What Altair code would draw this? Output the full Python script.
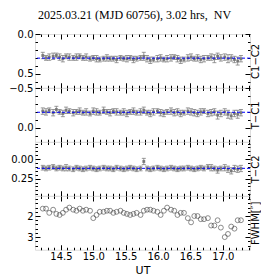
import altair as alt
import pandas as pd

# ---- data ----
t = [14.22, 14.27, 14.32, 14.38, 14.43, 14.48, 14.53, 14.58, 14.63, 14.69,
     14.74, 14.79, 14.84, 14.89, 14.95, 15.00, 15.05, 15.10, 15.16, 15.21,
     15.26, 15.31, 15.36, 15.42, 15.47, 15.52, 15.57, 15.62, 15.67, 15.73,
     15.78, 15.83, 15.88, 15.93, 15.99, 16.04, 16.09, 16.14, 16.20, 16.25,
     16.30, 16.35, 16.40, 16.46, 16.51, 16.56, 16.61, 16.66, 16.71, 16.77,
     16.82, 16.87, 16.92, 16.97, 17.03, 17.08, 17.13, 17.18, 17.23, 17.28]

c1c2 = [0.27, 0.30, 0.29, 0.28, 0.27, 0.29, 0.31, 0.28, 0.29, 0.30,
        0.29, 0.28, 0.30, 0.29, 0.31, 0.30, 0.31, 0.32, 0.31, 0.30,
        0.31, 0.31, 0.32, 0.30, 0.31, 0.31, 0.30, 0.32, 0.31, 0.30,
        0.28, 0.31, 0.33, 0.32, 0.31, 0.30, 0.32, 0.31, 0.30, 0.29,
        0.31, 0.33, 0.32, 0.30, 0.29, 0.31, 0.30, 0.32, 0.31, 0.30,
        0.29, 0.31, 0.28, 0.30, 0.29, 0.31, 0.30, 0.32, 0.34, 0.31]
c1c2_err = [0.04, 0.03, 0.04, 0.04, 0.03, 0.04, 0.04, 0.03, 0.04, 0.03,
            0.04, 0.03, 0.03, 0.04, 0.03, 0.03, 0.04, 0.03, 0.03, 0.04,
            0.03, 0.03, 0.04, 0.03, 0.03, 0.04, 0.03, 0.04, 0.03, 0.03,
            0.05, 0.04, 0.04, 0.03, 0.04, 0.04, 0.03, 0.04, 0.04, 0.03,
            0.04, 0.04, 0.03, 0.04, 0.04, 0.03, 0.04, 0.04, 0.04, 0.03,
            0.04, 0.05, 0.04, 0.04, 0.04, 0.05, 0.04, 0.04, 0.05, 0.04]

tc1 = [-0.21, -0.20, -0.22, -0.19, -0.23, -0.20, -0.18, -0.22, -0.21, -0.19,
       -0.20, -0.21, -0.19, -0.20, -0.18, -0.21, -0.20, -0.19, -0.22, -0.20,
       -0.19, -0.21, -0.20, -0.19, -0.20, -0.18, -0.20, -0.21, -0.19, -0.20,
       -0.22, -0.19, -0.18, -0.20, -0.21, -0.19, -0.18, -0.20, -0.21, -0.19,
       -0.20, -0.18, -0.19, -0.21, -0.20, -0.19, -0.18, -0.20, -0.21, -0.18,
       -0.19, -0.20, -0.16, -0.18, -0.20, -0.17, -0.15, -0.18, -0.17, -0.19]
tc1_err = [0.04, 0.04, 0.03, 0.04, 0.04, 0.03, 0.04, 0.04, 0.03, 0.04,
           0.03, 0.04, 0.03, 0.04, 0.03, 0.04, 0.04, 0.03, 0.04, 0.03,
           0.04, 0.03, 0.04, 0.03, 0.04, 0.04, 0.03, 0.04, 0.03, 0.04,
           0.04, 0.03, 0.04, 0.04, 0.03, 0.04, 0.04, 0.03, 0.04, 0.04,
           0.04, 0.04, 0.03, 0.04, 0.04, 0.04, 0.04, 0.04, 0.03, 0.04,
           0.04, 0.04, 0.05, 0.04, 0.04, 0.05, 0.04, 0.04, 0.05, 0.04]

tc2 = [0.11, 0.12, 0.11, 0.10, 0.12, 0.11, 0.12, 0.11, 0.12, 0.13,
       0.11, 0.12, 0.13, 0.12, 0.11, 0.12, 0.13, 0.12, 0.11, 0.12,
       0.12, 0.13, 0.11, 0.12, 0.13, 0.12, 0.11, 0.12, 0.13, 0.12,
       0.03, 0.12, 0.13, 0.12, 0.11, 0.12, 0.13, 0.12, 0.11, 0.12,
       0.13, 0.12, 0.12, 0.11, 0.12, 0.13, 0.12, 0.11, 0.12, 0.10,
       0.11, 0.12, 0.14, 0.12, 0.11, 0.13, 0.15, 0.12, 0.13, 0.12]
tc2_err = [0.03, 0.03, 0.03, 0.03, 0.03, 0.03, 0.03, 0.04, 0.03, 0.03,
           0.03, 0.03, 0.03, 0.03, 0.03, 0.03, 0.03, 0.03, 0.03, 0.03,
           0.03, 0.03, 0.03, 0.03, 0.03, 0.03, 0.03, 0.03, 0.03, 0.03,
           0.04, 0.03, 0.03, 0.03, 0.03, 0.03, 0.03, 0.03, 0.03, 0.03,
           0.03, 0.03, 0.03, 0.03, 0.03, 0.03, 0.03, 0.03, 0.03, 0.03,
           0.04, 0.03, 0.04, 0.03, 0.04, 0.04, 0.04, 0.04, 0.04, 0.04]

fwhm = [1.65, 1.65, 1.85, 1.70, 1.90, 1.95, 1.85, 1.70, 1.60, 1.70,
        1.75, 1.65, 1.75, 1.70, 1.75, 2.10, 1.95, 1.80, 1.80, 1.75,
        1.75, 1.85, 1.80, 1.75, 1.85, 1.90, 1.95, 1.90, 1.85, 1.95,
        1.75, 1.70, 1.70, 1.75, 1.80, 1.95, 1.75, 1.60, 1.70, 1.75,
        1.95, 1.85, 1.85, 2.10, 2.30, 2.00, 2.00, 2.15, 2.15, 2.10,
        2.45, 2.45, 2.20, 2.55, 3.00, 2.85, 2.50, 2.60, 2.20, 2.20]

# ---- axis tick values ----
x_domain = [14.1, 17.42]
x_ticks = [14.2, 14.3, 14.4, 14.5, 14.6, 14.7, 14.8, 14.9, 15.0, 15.1, 15.2,
           15.3, 15.4, 15.5, 15.6, 15.7, 15.8, 15.9, 16.0, 16.1, 16.2, 16.3,
           16.4, 16.5, 16.6, 16.7, 16.8, 16.9, 17.0, 17.1, 17.2, 17.3, 17.4]
x_major_step = 0.5

title_text = "2025.03.21 (MJD 60756), 3.02 hrs,\u00a0 NV"

W, H = 215, 53.75
FONT = "DejaVu Sans"
PT_COLOR = "#808080"


def is_major(step):
    return f"abs(datum.value / {step} - round(datum.value / {step})) < 0.001"


def make_axis(orient, vals, step, fmt, labels, title_pad=2, ytitle=False):
    test = is_major(step)
    kw = dict(orient=orient, values=vals,
              tickSize=alt.ExprRef(f"({test}) ? -5 : -2.5"),
              domain=False, grid=False, labels=labels, labelOverlap=False,
              labelExpr=f"({test}) ? format(datum.value, '{fmt}') : ''",
              tickColor="black", tickWidth=1, minExtent=0,
              labelFont=FONT, labelFontSize=10, labelColor="black",
              labelPadding=7, labelFlush=False,
              titleFont=FONT, titleFontWeight="normal", titleColor="black",
              titlePadding=title_pad)
    if ytitle:
        kw["titleAngle"] = 270
        kw["titleBaseline"] = "top"
        kw["titleFontSize"] = 10
    else:
        kw["titleFontSize"] = 11
    return alt.Axis(**kw)


def xs():
    return alt.Scale(domain=x_domain, nice=False, zero=False)


def ys(dom):
    return alt.Scale(domain=dom, reverse=True, nice=False, zero=False)


def err_panel(vals, errs, dom, yvals, ystep, fmt, rtitle):
    df = pd.DataFrame({"t": t, "v": vals, "e": errs})
    df["lo"] = df["v"] - df["e"]
    df["hi"] = df["v"] + df["e"]
    mean_df = pd.DataFrame({"m": [sum(vals) / len(vals)]})
    base = alt.Chart(df)
    bars = base.mark_rule(color=PT_COLOR, strokeWidth=1, opacity=0.8).encode(
        x=alt.X("t:Q", scale=xs(), title=None,
                axis=make_axis("bottom", x_ticks, x_major_step, ".1f", False)),
        y=alt.Y("lo:Q", scale=ys(dom), title=None,
                axis=make_axis("left", yvals, ystep, fmt, True)),
        y2="hi:Q",
    )
    cap_lo = base.mark_tick(orient="horizontal", size=4, thickness=1, color=PT_COLOR, opacity=0.8).encode(
        x=alt.X("t:Q", scale=xs(), title=None,
                axis=make_axis("top", x_ticks, x_major_step, ".1f", False)),
        y=alt.Y("lo:Q", scale=ys(dom), title=rtitle,
                axis=make_axis("right", yvals, ystep, fmt, False, title_pad=0, ytitle=True)),
    )
    cap_hi = base.mark_tick(orient="horizontal", size=4, thickness=1, color=PT_COLOR, opacity=0.8).encode(
        x=alt.X("t:Q", scale=xs(), axis=None),
        y=alt.Y("hi:Q", scale=ys(dom), axis=None),
    )
    pts = base.mark_point(shape="square", filled=True, size=8, color="#707070", opacity=0.9).encode(
        x=alt.X("t:Q", scale=xs(), axis=None),
        y=alt.Y("v:Q", scale=ys(dom), axis=None),
    )
    mean = alt.Chart(mean_df).mark_rule(color="#0000ff", strokeDash=[3, 2], strokeWidth=1).encode(
        y=alt.Y("m:Q", scale=ys(dom), axis=None),
    )
    return alt.layer(bars, cap_lo, cap_hi, pts, mean).resolve_axis(
        x="independent", y="independent").properties(width=W, height=H)


def fwhm_panel():
    df = pd.DataFrame({"t": t, "f": fwhm})
    dom = [1.05, 3.6]
    yvals = [1.2, 1.4, 1.6, 1.8, 2.0, 2.2, 2.4, 2.6, 2.8, 3.0, 3.2, 3.4]
    base = alt.Chart(df)
    circ = base.mark_point(shape="circle", filled=False, size=24, color="#333333", strokeWidth=0.8).encode(
        x=alt.X("t:Q", scale=xs(), title="UT",
                axis=make_axis("bottom", x_ticks, x_major_step, ".1f", True, title_pad=0)),
        y=alt.Y("f:Q", scale=ys(dom), title=None,
                axis=make_axis("left", yvals, 1, "d", True)),
    )
    ghost = base.mark_point(opacity=0).encode(
        x=alt.X("t:Q", scale=xs(), title=None,
                axis=make_axis("top", x_ticks, x_major_step, ".1f", False)),
        y=alt.Y("f:Q", scale=ys(dom), title="FWHM[″]",
                axis=make_axis("right", yvals, 1, "d", False, title_pad=0, ytitle=True)),
    )
    return alt.layer(circ, ghost).resolve_axis(
        x="independent", y="independent").properties(width=W, height=H)


p1 = err_panel(c1c2, c1c2_err, [0.0, 0.675],
               [0.0, 0.1, 0.2, 0.3, 0.4, 0.5, 0.6], 0.5, ".1f", "C1−C2")
p2 = err_panel(tc1, tc1_err, [-0.5, 0.175],
               [-0.5, -0.4, -0.3, -0.2, -0.1, 0.0, 0.1], 0.5, ".1f", "T−C1")
p3 = err_panel(tc2, tc2_err, [-0.22, 0.47],
               [-0.2, -0.15, -0.1, -0.05, 0.0, 0.05, 0.1, 0.15, 0.2, 0.25,
                0.3, 0.35, 0.4, 0.45], 0.25, ".2f", "T−C2")
p4 = fwhm_panel()

chart = alt.vconcat(p1, p2, p3, p4, spacing=0, bounds="flush").properties(
    title=alt.TitleParams(title_text, font="Liberation Serif", fontSize=12,
                          fontWeight="normal", color="black", offset=7, anchor="middle"),
    padding={"left": 0, "top": 0, "right": 0, "bottom": 0},
).configure_view(stroke="black", strokeWidth=1).configure(background="white")

chart.save("out.html", embed_options={"renderer": "svg", "actions": False})
